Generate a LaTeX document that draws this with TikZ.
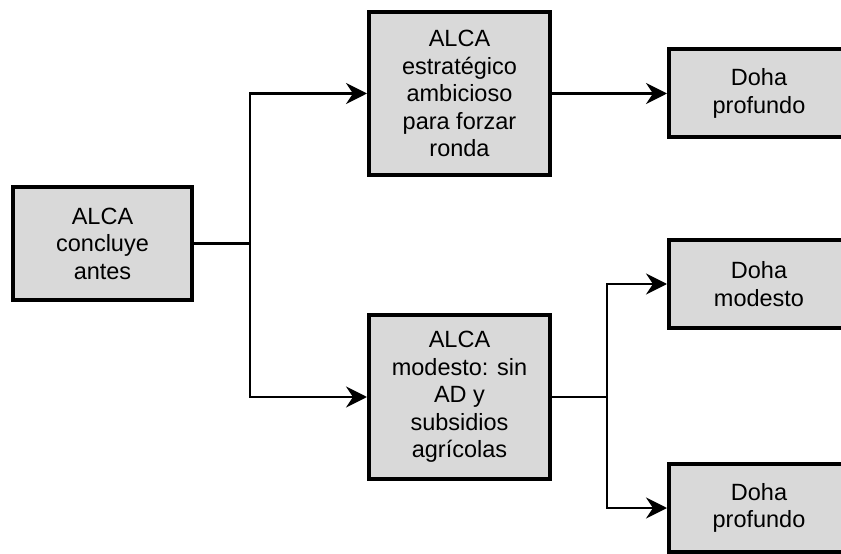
\documentclass[tikz,border=0pt]{standalone}
\usepackage{fontspec}
\setmainfont{Liberation Sans}
\usepackage{xcolor}
\usepackage{tikz}
\usetikzlibrary{arrows.meta, positioning}

\definecolor{boxgray}{RGB}{217,217,217}

\begin{document}
\begin{tikzpicture}[
	  font=\fontsize{23.5}{27.5}\selectfont,
	  box/.style={
	    draw,
	    line width=4pt,
	    align=center,
	    minimum width=179pt,
	    minimum height=113pt,
	    fill=boxgray
	  },
	  tallbox/.style={box,minimum width=181pt,minimum height=163pt},
	  dohabox/.style={box,minimum width=180pt,minimum height=88pt},
	  arrow/.style={-{Stealth[length=21pt,width=21pt,inset=7pt]},line width=2.5pt}
	]
	\useasboundingbox (-102.5pt,-310.5pt) rectangle (738.5pt,243.5pt);
	
	\node[box] (start) {ALCA\\concluye\\antes};
	\node[tallbox,right=173pt of start, yshift=150pt] (strong) {ALCA\\estratégico\\ambicioso\\para forzar\\ronda};
	\node[tallbox,right=173pt of start, yshift=-153.5pt] (modest) {ALCA\\modesto: sin\\AD y\\subsidios\\agrícolas};
	
	\node[dohabox,right=115pt of strong] (deep1) {Doha\\profundo};
	\node[dohabox,right=115pt of modest, yshift=113pt] (light) {Doha\\modesto};
	\node[dohabox,right=115pt of modest, yshift=-111pt] (deep2) {Doha\\profundo};
	
	\coordinate (split1) at ([xshift=56pt]start.east);
	\coordinate (split2) at ([xshift=55pt]modest.east);
	
	\draw[line width=2.5pt] (start.east) -- (split1);
	\draw[arrow] (split1) |- (strong.west);
	\draw[arrow] (split1) |- (modest.west);
	\draw[arrow] (strong.east) -- (deep1.west);
	
	\draw[line width=2.5pt] (modest.east) -- (split2);
	\draw[arrow] (split2) |- (light.west);
	\draw[arrow] (split2) |- (deep2.west);
	
\end{tikzpicture}
\end{document}
